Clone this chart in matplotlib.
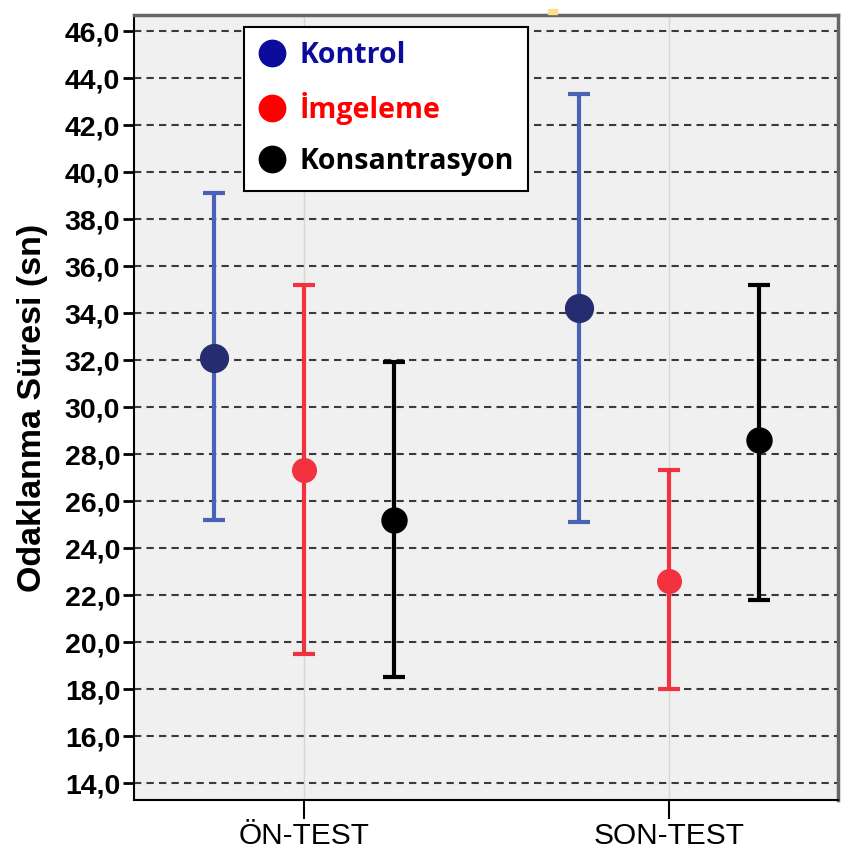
import matplotlib.pyplot as plt
from matplotlib.lines import Line2D
import numpy as np

# group means with lower / upper limits of the error bars
phases = ["ÖN-TEST", "SON-TEST"]
groups = ["Kontrol", "İmgeleme", "Konsantrasyon"]
means = {
    "Kontrol": [32.1, 34.2],
    "İmgeleme": [27.3, 22.6],
    "Konsantrasyon": [25.2, 28.6],
}
lower = {
    "Kontrol": [25.2, 25.1],
    "İmgeleme": [19.5, 18.0],
    "Konsantrasyon": [18.5, 21.8],
}
upper = {
    "Kontrol": [39.1, 43.3],
    "İmgeleme": [35.2, 27.3],
    "Konsantrasyon": [31.9, 35.2],
}
yticks = np.arange(14, 47, 2)

bar_colors = {"Kontrol": "#4a62b6", "İmgeleme": "#f2323e", "Konsantrasyon": "#000000"}
dot_colors = {"Kontrol": "#262c70", "İmgeleme": "#f2323e", "Konsantrasyon": "#000000"}
legend_colors = {"Kontrol": "#0b0b9c", "İmgeleme": "#ff0000", "Konsantrasyon": "#000000"}
dot_sizes = {"Kontrol": 20, "İmgeleme": 17, "Konsantrasyon": 18}
offsets = [-0.247, 0.0, 0.247]

plt.rcParams['font.family'] = ['Liberation Sans', 'DejaVu Sans']

fig = plt.figure(figsize=(8.67, 8.59), dpi=100)
ax = fig.add_axes([0.1546, 0.0687, 0.812, 0.9138])
ax.set_facecolor("#f0f0f0")

x = np.arange(1, len(phases) + 1)
for g, off in zip(groups, offsets):
    m = np.array(means[g])
    err = [m - np.array(lower[g]), np.array(upper[g]) - m]
    ax.errorbar(x + off, m, yerr=err, fmt='none', ecolor=bar_colors[g],
                elinewidth=3, capsize=8, capthick=3, zorder=3)
    ax.plot(x + off, m, 'o', color=dot_colors[g], markersize=dot_sizes[g], zorder=4)

ax.set_xlim(0.534, 2.463)
ax.set_ylim(13.28, 46.68)
ax.set_xticks(x)
ax.set_xticklabels(phases, fontsize=21.5)
ax.set_yticks(yticks)
ax.set_yticklabels([f"{v:.1f}".replace(".", ",") for v in yticks],
                   fontsize=20.5, fontweight='bold')
ax.tick_params(axis='y', length=8, width=2, pad=2)
ax.tick_params(axis='x', length=14, width=1.5, pad=1.5)

for v in yticks:
    ax.axhline(v, color="#3a3a3a", linestyle=(0, (3.5, 2.5)), linewidth=1.5, zorder=1)
for v in x:
    ax.axvline(v, color="#d6d6d6", linewidth=1, zorder=0.5)

for s in ["left", "bottom"]:
    ax.spines[s].set_linewidth(1.5)
    ax.spines[s].set_color("black")
for s in ["top", "right"]:
    ax.spines[s].set_linewidth(2.5)
    ax.spines[s].set_color("#666666")

ax.set_ylabel("Odaklanma Süresi (sn)", fontsize=24.5, fontweight='bold', labelpad=12)

handles = [Line2D([], [], linestyle='none', marker='o', markersize=19,
                  color=legend_colors[g]) for g in groups]
leg = ax.legend(handles, groups, loc='upper left', bbox_to_anchor=(0.156, 0.985),
                borderaxespad=0, fancybox=False, framealpha=1, edgecolor='black',
                handletextpad=0.45, labelspacing=0.78, borderpad=0.5, handlelength=1.0,
                prop={'family': 'Open Sans', 'weight': 'bold', 'size': 20.5})
leg.get_frame().set_linewidth(1.5)
for txt, g in zip(leg.get_texts(), groups):
    txt.set_color(legend_colors[g])

# small yellow mark above the frame
fig.patches.append(plt.Rectangle((548 / 867, 1 - 14 / 859), 9 / 867, 5 / 859,
                                 transform=fig.transFigure, color="#fde08a"))

fig.savefig("out.png", dpi=100)
